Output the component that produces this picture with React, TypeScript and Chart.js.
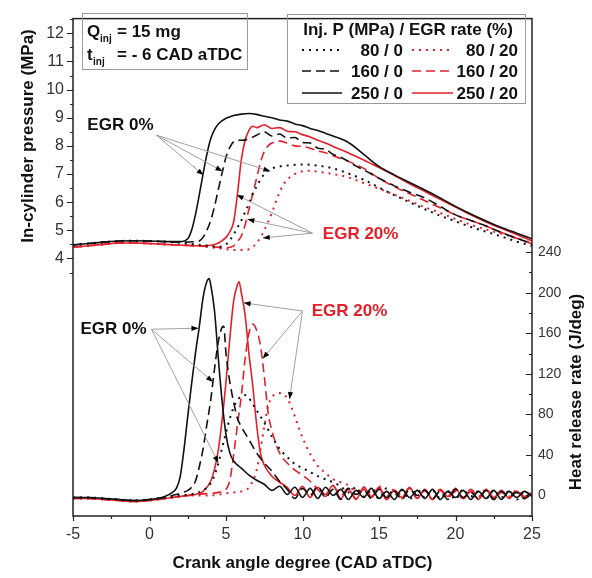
import React, { useEffect, useRef } from "react";
import { Chart, registerables } from "chart.js";

Chart.register(...registerables);

// ---------- axis ticks ----------
const X_TICKS = [-5, 0, 5, 10, 15, 20, 25];
const X_MINOR = [-2.5, 2.5, 7.5, 12.5, 17.5, 22.5];
const P_TICKS = [4, 5, 6, 7, 8, 9, 10, 11, 12];
const P_MINOR = [3.5, 4.5, 5.5, 6.5, 7.5, 8.5, 9.5, 10.5, 11.5, 12.5];
const H_TICKS = [0, 40, 80, 120, 160, 200, 240];
const H_MINOR = [-20, 20, 60, 100, 140, 180, 220];

// ---------- in-cylinder pressure (MPa) ----------
const p80_0_cad = [-5, -4, -3, -2, -1, 0, 1, 2, 3, 3.5, 4, 4.5, 5, 5.25, 5.5, 5.75, 6, 6.25, 6.5, 6.75, 7, 7.25, 7.5, 7.75, 8, 8.5, 9, 10, 11, 12, 13, 14, 15, 16, 17, 18, 19, 20, 21, 22, 23, 24, 25];
const p80_0 = [4.48, 4.53, 4.58, 4.62, 4.63, 4.62, 4.6, 4.56, 4.5, 4.47, 4.44, 4.42, 4.5, 4.65, 4.85, 5.1, 5.35, 5.65, 5.95, 6.3, 6.55, 6.8, 7.0, 7.13, 7.2, 7.27, 7.3, 7.34, 7.3, 7.2, 7.02, 6.8, 6.52, 6.25, 6.0, 5.75, 5.52, 5.32, 5.12, 4.95, 4.78, 4.6, 4.45];

const p160_0_cad = [-5, -4, -3, -2, -1, 0, 1, 2, 3, 3.25, 3.5, 3.75, 4, 4.25, 4.5, 4.75, 5, 5.25, 5.5, 5.75, 6, 6.5, 7, 7.5, 8, 8.5, 9, 9.5, 10, 10.5, 11, 11.5, 12, 12.5, 13, 13.5, 14, 15, 16, 17, 18, 19, 20, 21, 22, 23, 24, 25];
const p160_0 = [4.48, 4.53, 4.58, 4.62, 4.63, 4.62, 4.6, 4.58, 4.6, 4.62, 4.75, 5.0, 5.35, 5.85, 6.45, 7.05, 7.6, 7.95, 8.15, 8.2, 8.2, 8.25, 8.38, 8.5, 8.35, 8.42, 8.28, 8.3, 8.12, 8.1, 7.92, 7.88, 7.7, 7.6, 7.45, 7.28, 7.15, 6.85, 6.58, 6.35, 6.15, 5.85, 5.55, 5.35, 5.15, 4.92, 4.72, 4.52];

const p250_0_cad = [-5, -4, -3, -2, -1, 0, 1, 2, 2.5, 2.75, 3, 3.25, 3.5, 3.75, 4, 4.25, 4.5, 5, 5.5, 6, 6.5, 7, 7.5, 8, 8.5, 9, 9.5, 10, 10.5, 11, 11.5, 12, 13, 14, 15, 16, 17, 18, 19, 20, 21, 22, 23, 24, 25];
const p250_0 = [4.48, 4.53, 4.58, 4.62, 4.63, 4.62, 4.6, 4.6, 4.7, 5.0, 5.55, 6.25, 7.0, 7.7, 8.25, 8.58, 8.78, 8.98, 9.08, 9.13, 9.15, 9.12, 9.05, 9.0, 8.92, 8.88, 8.78, 8.72, 8.62, 8.55, 8.45, 8.35, 8.12, 7.7, 7.27, 6.97, 6.7, 6.43, 6.15, 5.85, 5.58, 5.33, 5.1, 4.9, 4.7];

const p80_20_cad = [-5, -4, -3, -2, -1, 0, 1, 2, 3, 4, 5, 5.5, 6, 6.5, 7, 7.25, 7.5, 7.75, 8, 8.25, 8.5, 8.75, 9, 9.5, 10, 10.5, 11, 12, 13, 14, 15, 16, 17, 18, 19, 20, 21, 22, 23, 24, 25];
const p80_20 = [4.4, 4.45, 4.5, 4.55, 4.55, 4.53, 4.5, 4.48, 4.45, 4.4, 4.33, 4.3, 4.3, 4.33, 4.55, 4.75, 5.0, 5.3, 5.62, 6.0, 6.35, 6.62, 6.8, 7.0, 7.1, 7.12, 7.08, 7.0, 6.88, 6.68, 6.48, 6.27, 6.05, 5.82, 5.62, 5.4, 5.2, 5.03, 4.88, 4.72, 4.55];

const p160_20_cad = [-5, -4, -3, -2, -1, 0, 1, 2, 3, 4, 5, 5.5, 5.75, 6, 6.25, 6.5, 6.75, 7, 7.25, 7.5, 7.75, 8, 8.5, 9, 9.5, 10, 10.5, 11, 11.5, 12, 13, 14, 15, 16, 17, 18, 19, 20, 21, 22, 23, 24, 25];
const p160_20 = [4.4, 4.45, 4.5, 4.55, 4.55, 4.53, 4.5, 4.48, 4.45, 4.42, 4.38, 4.45, 4.6, 4.8, 5.2, 5.75, 6.3, 6.85, 7.4, 7.8, 8.0, 8.1, 8.17, 8.1, 8.0, 7.98, 7.92, 7.82, 7.76, 7.65, 7.45, 7.2, 6.85, 6.55, 6.3, 6.05, 5.8, 5.55, 5.35, 5.15, 4.92, 4.72, 4.52];

const p250_20_cad = [-5, -4, -3, -2, -1, 0, 1, 2, 3, 4, 4.5, 5, 5.25, 5.5, 5.75, 6, 6.25, 6.5, 6.75, 7, 7.5, 8, 8.5, 9, 9.5, 10, 10.5, 11, 11.5, 12, 13, 14, 15, 16, 17, 18, 19, 20, 21, 22, 23, 24, 25];
const p250_20 = [4.4, 4.45, 4.5, 4.55, 4.55, 4.53, 4.5, 4.48, 4.45, 4.47, 4.55, 4.75, 4.95, 5.3, 6.3, 7.5, 8.2, 8.55, 8.7, 8.65, 8.75, 8.62, 8.65, 8.52, 8.5, 8.4, 8.32, 8.2, 8.1, 7.98, 7.75, 7.5, 7.23, 6.95, 6.65, 6.38, 6.1, 5.83, 5.55, 5.3, 5.07, 4.85, 4.63];

// ---------- heat release rate (J/deg) ----------
const h80_0_cad = [-5, -4, -3, -2, -1, 0, 1, 2, 3, 3.5, 4, 4.25, 4.5, 4.75, 5, 5.25, 5.5, 5.75, 6, 6.25, 6.5, 6.75, 7, 7.5, 8, 8.5, 9, 9.5, 10, 10.5, 11, 11.5, 12, 12.5, 13, 13.5, 14, 14.5, 15, 15.5, 16, 16.5, 17, 17.5, 18, 18.5, 19, 19.5, 20, 20.5, 21, 21.5, 22, 22.5, 23, 23.5, 24, 24.5, 25];
const h80_0 = [-2, -2, -3, -4, -5, -4, -2, 0, 2, 5, 12, 20, 32, 47, 62, 76, 87, 94, 98, 99, 96, 90, 84, 72, 58, 46, 38, 31, 27, 23, 19, 16, 13, 9, 3, 8, -1, 6, -3, 7, 0, 5, -4, 6, -2, 5, -3, 4, -4, 6, -1, 4, -3, 5, -2, 4, -4, 3, 0];

const h160_0_cad = [-5, -4, -3, -2, -1, 0, 1, 1.5, 2, 2.5, 2.75, 3, 3.25, 3.5, 3.75, 4, 4.25, 4.5, 4.75, 4.85, 5, 5.25, 5.5, 5.75, 6, 6.5, 7, 7.5, 8, 8.5, 9, 9.5, 10, 10.5, 11, 11.5, 12, 12.5, 13, 13.5, 14, 14.5, 15, 15.5, 16, 16.5, 17, 17.5, 18, 18.5, 19, 19.5, 20, 20.5, 21, 21.5, 22, 22.5, 23, 23.5, 24, 24.5, 25];
const h160_0 = [-2, -2, -3, -4, -5, -4, -2, 0, 2, 5, 8, 14, 28, 46, 70, 94, 125, 152, 166, 167, 140, 112, 92, 76, 68, 55, 42, 32, 24, 14, 6, -3, 7, 0, 9, -2, 6, -4, 7, 1, 5, -3, 6, -2, 4, -4, 6, 0, 5, -3, 4, -4, 6, -2, 3, -3, 5, -4, 4, -1, 3, -3, 2];

const h250_0_cad = [-5, -4, -3, -2, -1, 0, 0.5, 1, 1.5, 1.75, 2, 2.25, 2.5, 2.75, 3, 3.25, 3.5, 3.75, 3.9, 4, 4.25, 4.5, 4.75, 5, 5.25, 5.5, 6, 6.5, 7, 7.5, 8, 8.5, 9, 9.5, 10, 10.5, 11, 11.5, 12, 12.5, 13, 13.5, 14, 14.5, 15, 15.5, 16, 16.5, 17, 17.5, 18, 18.5, 19, 19.5, 20, 20.5, 21, 21.5, 22, 22.5, 23, 23.5, 24, 24.5, 25];
const h250_0 = [-2, -2, -3, -4, -5, -4, -3, -1, 3, 7, 18, 45, 78, 110, 140, 166, 195, 211, 214, 208, 182, 135, 92, 60, 42, 34, 27, 20, 15, 11, 5, 9, 1, 8, -2, 7, -3, 8, 0, 6, -4, 5, -2, 7, -3, 4, -4, 6, -2, 5, -3, 6, -4, 4, -2, 5, -4, 4, -3, 5, -4, 4, -2, 4, -1];

const h80_20_cad = [-5, -4, -3, -2, -1, 0, 1, 2, 3, 4, 5, 5.5, 6, 6.5, 7, 7.25, 7.5, 7.75, 8, 8.25, 8.5, 8.75, 9, 9.25, 9.5, 9.75, 10, 10.5, 11, 11.5, 12, 12.5, 13, 13.5, 14, 14.5, 15, 15.5, 16, 16.5, 17, 17.5, 18, 18.5, 19, 19.5, 20, 20.5, 21, 21.5, 22, 22.5, 23, 23.5, 24, 24.5, 25];
const h80_20 = [-3, -3, -4, -5, -6, -5, -3, -1, 0, 0, 2, 3, 4, 8, 25, 45, 68, 88, 97, 100, 101, 100, 96, 88, 78, 67, 57, 41, 29, 22, 16, 13, 10, 4, 8, 2, 9, -1, 6, -3, 7, 0, 5, -4, 6, -1, 5, -3, 4, -2, 6, -3, 4, -1, 5, -3, 2];

const h160_20_cad = [-5, -4, -3, -2, -1, 0, 1, 2, 3, 4, 4.5, 5, 5.25, 5.5, 5.75, 6, 6.25, 6.5, 6.75, 7, 7.25, 7.5, 7.75, 8, 8.5, 9, 9.5, 10, 10.5, 11, 11.5, 12, 12.5, 13, 13.5, 14, 14.5, 15, 15.5, 16, 16.5, 17, 17.5, 18, 18.5, 19, 19.5, 20, 20.5, 21, 21.5, 22, 22.5, 23, 23.5, 24, 24.5, 25];
const h160_20 = [-3, -3, -4, -5, -6, -5, -3, -1, 1, 2, 3, 6, 15, 40, 70, 98, 135, 160, 169, 163, 148, 118, 82, 64, 42, 32, 25, 20, 14, 6, -1, 9, 0, 7, -3, 6, -2, 8, -4, 5, 0, 7, -3, 5, -4, 6, -2, 4, -3, 6, -1, 5, -4, 3, -2, 5, -3, 2];

const h250_20_cad = [-5, -4, -3, -2, -1, 0, 1, 2, 3, 3.5, 4, 4.25, 4.5, 4.75, 5, 5.25, 5.5, 5.75, 5.85, 6, 6.25, 6.5, 6.75, 7, 7.25, 7.5, 8, 8.5, 9, 9.5, 10, 10.5, 11, 11.5, 12, 12.5, 13, 13.5, 14, 14.5, 15, 15.5, 16, 16.5, 17, 17.5, 18, 18.5, 19, 19.5, 20, 20.5, 21, 21.5, 22, 22.5, 23, 23.5, 24, 24.5, 25];
const h250_20 = [-3, -3, -4, -5, -6, -5, -3, -1, 1, 4, 14, 26, 45, 75, 112, 155, 192, 208, 211, 200, 178, 140, 108, 70, 42, 30, 19, 13, 8, 0, 9, -2, 8, 1, 10, -3, 6, -4, 8, -1, 7, -4, 5, -2, 8, -3, 6, -4, 5, -1, 7, -3, 4, -4, 6, -2, 5, -3, 4, -1, 3];

// ---------- annotations (data coordinates) ----------
const ANNOT_LABELS = [
  { text: "EGR 0%", color: "#111111", axis: "yP", x: -1.9, y: 8.73 },
  { text: "EGR 20%", color: "#e3202a", axis: "yP", x: 13.8, y: 4.87 },
  { text: "EGR 0%", color: "#111111", axis: "yH", x: -2.35, y: 164 },
  { text: "EGR 20%", color: "#e3202a", axis: "yH", x: 13.07, y: 182 },
];
const ANNOT_ARROWS = [
  { axis: "yP", from: [0.46, 8.38], to: [[3.53, 6.96], [4.77, 7.1], [7.9, 7.1]] },
  { axis: "yP", from: [10.65, 4.9], to: [[5.7, 6.26], [6.4, 5.39], [7.4, 4.73]] },
  { axis: "yH", from: [0.13, 164], to: [[3.2, 165], [4.15, 112], [4.5, 32]] },
  { axis: "yH", from: [10.0, 182], to: [[6.15, 190], [7.4, 135], [9.15, 95]] },
];

const BLACK = "#111111";
const RED = "#e3202a";
const DOT = [2, 5];
const DASH = [9, 5];
const SOLID: number[] = [];
const FONT = '"Liberation Sans", Arial, sans-serif';

function series(label: string, cad: number[], vals: number[], color: string, dash: number[], axis: string) {
  const n = Math.min(cad.length, vals.length);
  const data = [];
  for (let i = 0; i < n; i++) data.push({ x: cad[i], y: vals[i] });
  return {
    label,
    data,
    borderColor: color,
    backgroundColor: color,
    borderDash: dash,
    borderWidth: dash === DOT ? 2 : 1.6,
    yAxisID: axis,
    pointRadius: 0,
    fill: false,
    cubicInterpolationMode: "monotone" as const,
  };
}

function drawArrow(ctx: CanvasRenderingContext2D, x0: number, y0: number, x1: number, y1: number) {
  ctx.strokeStyle = "#a0a0a0";
  ctx.lineWidth = 1;
  ctx.setLineDash([]);
  ctx.beginPath();
  ctx.moveTo(x0, y0);
  ctx.lineTo(x1, y1);
  ctx.stroke();
  const a = Math.atan2(y1 - y0, x1 - x0);
  const L = 7, W = 2.6;
  ctx.fillStyle = "#000";
  ctx.beginPath();
  ctx.moveTo(x1, y1);
  ctx.lineTo(x1 - L * Math.cos(a) + W * Math.sin(a), y1 - L * Math.sin(a) - W * Math.cos(a));
  ctx.lineTo(x1 - L * Math.cos(a) - W * Math.sin(a), y1 - L * Math.sin(a) + W * Math.cos(a));
  ctx.closePath();
  ctx.fill();
}

const decorPlugin = {
  id: "decor",
  afterDraw(chart: any) {
    const { ctx, chartArea: ca, scales } = chart;
    const sx = scales.x, sp = scales.yP, sh = scales.yH;
    ctx.save();
    ctx.setLineDash([]);
    // frame
    ctx.strokeStyle = "#222";
    ctx.lineWidth = 1.5;
    ctx.strokeRect(ca.left, ca.top, ca.right - ca.left, ca.bottom - ca.top);
    // tick marks
    ctx.lineWidth = 1.2;
    ctx.beginPath();
    const tx = (v: number, len: number) => { const p = Math.round(sx.getPixelForValue(v)) + 0.5; ctx.moveTo(p, ca.bottom); ctx.lineTo(p, ca.bottom + len); };
    X_TICKS.forEach((v) => tx(v, 5));
    X_MINOR.forEach((v) => tx(v, 3));
    const tp = (v: number, len: number) => { const p = Math.round(sp.getPixelForValue(v)) + 0.5; ctx.moveTo(ca.left - len, p); ctx.lineTo(ca.left, p); };
    P_TICKS.forEach((v) => tp(v, 6));
    P_MINOR.forEach((v) => tp(v, 3));
    const th = (v: number, len: number) => { const p = Math.round(sh.getPixelForValue(v)) + 0.5; ctx.moveTo(ca.right - len, p); ctx.lineTo(ca.right, p); };
    H_TICKS.forEach((v) => th(v, 6));
    H_MINOR.forEach((v) => th(v, 3));
    ctx.stroke();

    // y axis titles
    ctx.fillStyle = "#111";
    ctx.font = `bold 17px ${FONT}`;
    ctx.textAlign = "center";
    ctx.textBaseline = "middle";
    ctx.save();
    ctx.translate(28, 136);
    ctx.rotate(-Math.PI / 2);
    ctx.fillText("In-cylinder pressure (MPa)", 0, 0);
    ctx.restore();
    ctx.save();
    ctx.translate(576, 392);
    ctx.rotate(-Math.PI / 2);
    ctx.fillText("Heat release rate (J/deg)", 0, 0);
    ctx.restore();

    // condition box
    ctx.strokeStyle = "#999";
    ctx.lineWidth = 1;
    ctx.strokeRect(82.5, 13.5, 165, 56);
    ctx.textAlign = "left";
    ctx.textBaseline = "alphabetic";
    ctx.fillStyle = "#111";
    ctx.font = `bold 17px ${FONT}`;
    ctx.fillText("Q", 87, 37);
    ctx.fillText("= 15 mg", 117, 37);
    ctx.fillText("t", 87, 60);
    ctx.fillText("= - 6 CAD aTDC", 117, 60);
    ctx.font = `bold 10px ${FONT}`;
    ctx.fillText("inj", 100, 42);
    ctx.fillText("inj", 93, 65);

    // legend
    ctx.strokeStyle = "#999";
    ctx.strokeRect(287.5, 14.5, 238, 89);
    ctx.fillStyle = "#111";
    ctx.font = `bold 17px ${FONT}`;
    ctx.textAlign = "center";
    ctx.fillText("Inj. P (MPa) / EGR rate (%)", 408, 35);
    const pds = chart.data.datasets.filter((d: any) => d.yAxisID === "yP");
    const rowY = [56, 77, 99];
    const colLine = [[302, 342], [412, 453]];
    const colText = [403, 518];
    pds.forEach((d: any, i: number) => {
      const col = Math.floor(i / 3), row = i % 3;
      const y = rowY[row] - 6;
      ctx.strokeStyle = d.borderColor;
      ctx.lineWidth = d.borderWidth;
      ctx.setLineDash(d.borderDash);
      ctx.beginPath();
      ctx.moveTo(colLine[col][0], y);
      ctx.lineTo(colLine[col][1], y);
      ctx.stroke();
      ctx.setLineDash([]);
      ctx.fillStyle = "#111";
      ctx.textAlign = "right";
      ctx.fillText(d.label, colText[col], rowY[row]);
    });

    // arrows and labels
    const scaleOf = (a: string) => (a === "yP" ? sp : sh);
    ANNOT_ARROWS.forEach((ar) => {
      const s = scaleOf(ar.axis);
      const x0 = sx.getPixelForValue(ar.from[0]), y0 = s.getPixelForValue(ar.from[1]);
      ar.to.forEach((t) => drawArrow(ctx, x0, y0, sx.getPixelForValue(t[0]), s.getPixelForValue(t[1])));
    });
    ctx.font = `bold 17px ${FONT}`;
    ctx.textAlign = "center";
    ctx.textBaseline = "middle";
    ANNOT_LABELS.forEach((l) => {
      const s = scaleOf(l.axis);
      ctx.fillStyle = l.color;
      ctx.fillText(l.text, sx.getPixelForValue(l.x), s.getPixelForValue(l.y));
    });
    ctx.restore();
  },
};

export default function App() {
  const ref = useRef<HTMLCanvasElement | null>(null);
  useEffect(() => {
    if (!ref.current) return;
    Chart.defaults.font.family = FONT;
    const datasets = [
      series("80 / 0", p80_0_cad, p80_0, BLACK, DOT, "yP"),
      series("160 / 0", p160_0_cad, p160_0, BLACK, DASH, "yP"),
      series("250 / 0", p250_0_cad, p250_0, BLACK, SOLID, "yP"),
      series("80 / 20", p80_20_cad, p80_20, RED, DOT, "yP"),
      series("160 / 20", p160_20_cad, p160_20, RED, DASH, "yP"),
      series("250 / 20", p250_20_cad, p250_20, RED, SOLID, "yP"),
      series("HRR 80 / 0", h80_0_cad, h80_0, BLACK, DOT, "yH"),
      series("HRR 160 / 0", h160_0_cad, h160_0, BLACK, DASH, "yH"),
      series("HRR 250 / 0", h250_0_cad, h250_0, BLACK, SOLID, "yH"),
      series("HRR 80 / 20", h80_20_cad, h80_20, RED, DOT, "yH"),
      series("HRR 160 / 20", h160_20_cad, h160_20, RED, DASH, "yH"),
      series("HRR 250 / 20", h250_20_cad, h250_20, RED, SOLID, "yH"),
    ];
    const chart = new Chart(ref.current, {
      type: "line",
      data: { datasets: datasets as any },
      options: {
        animation: false,
        responsive: false,
        maintainAspectRatio: false,
        devicePixelRatio: 1,
        layout: { padding: { top: 8, left: 0, right: 0, bottom: 0 } },
        plugins: { legend: { display: false }, tooltip: { enabled: false } },
        scales: {
          x: {
            type: "linear",
            position: "bottom",
            min: -5,
            max: 25,
            afterBuildTicks: (s: any) => { s.ticks = X_TICKS.map((v) => ({ value: v })); },
            afterFit: (s: any) => { s.height = 62; },
            grid: { display: false, drawTicks: false },
            border: { display: false },
            ticks: { font: { size: 16 }, color: "#333", padding: 9, autoSkip: false, maxRotation: 0 },
            title: {
              display: true,
              text: "Crank angle degree (CAD aTDC)",
              font: { size: 17, weight: "bold" },
              color: "#111",
              padding: { top: 0, bottom: 4 },
            },
          },
          yP: {
            type: "linear",
            position: "left",
            min: -5.148,
            max: 12.522,
            afterBuildTicks: (s: any) => { s.ticks = P_TICKS.map((v) => ({ value: v })); },
            afterFit: (s: any) => { s.width = 73; },
            grid: { display: false, drawTicks: false },
            border: { display: false },
            ticks: { font: { size: 16 }, color: "#333", padding: 9, autoSkip: false },
          },
          yH: {
            type: "linear",
            position: "right",
            min: -20.3,
            max: 470.5,
            afterBuildTicks: (s: any) => { s.ticks = H_TICKS.map((v) => ({ value: v })); },
            afterFit: (s: any) => { s.width = 60; },
            grid: { display: false, drawTicks: false },
            border: { display: false },
            ticks: { font: { size: 14 }, color: "#333", padding: 6, autoSkip: false },
          },
        },
      } as any,
      plugins: [decorPlugin],
    });
    return () => chart.destroy();
  }, []);
  return (
    <div style={{ position: "absolute", left: 0, top: 0, width: 592, height: 578, background: "#fff" }}>
      <canvas ref={ref} width={592} height={578} style={{ display: "block" }} />
    </div>
  );
}
